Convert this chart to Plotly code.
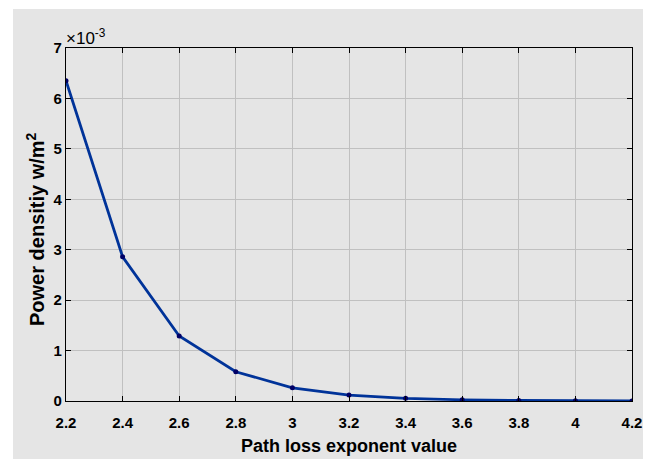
import plotly.graph_objects as go

exponent = [2.2, 2.4, 2.6, 2.8, 3.0, 3.2, 3.4, 3.6, 3.8, 4.0, 4.2]
power_e3 = [6.35, 2.86, 1.29, 0.58, 0.262, 0.118, 0.053, 0.024, 0.011, 0.005, 0.002]
x_ticks = [2.2, 2.4, 2.6, 2.8, 3.0, 3.2, 3.4, 3.6, 3.8, 4.0, 4.2]
x_labels = ["2.2", "2.4", "2.6", "2.8", "3", "3.2", "3.4", "3.6", "3.8", "4", "4.2"]
y_ticks = [0, 1, 2, 3, 4, 5, 6, 7]

FONT = "Liberation Sans, Arial, sans-serif"
BG = "#e5e5e5"

fig = go.Figure()
fig.add_trace(go.Scatter(
    x=exponent, y=power_e3, mode="lines+markers",
    line=dict(color="#003399", width=2.8),
    marker=dict(color="#000066", size=5),
    showlegend=False,
))

L, R, T, B = 66, 17, 48, 58
W, H = 649, 459
pw, ph = W - L - R, H - T - B

fig.add_shape(type="rect", xref="paper", yref="paper", layer="below",
              x0=(13 - L) / pw, x1=(643 - L) / pw,
              y0=-(459 - (H - B)) / ph, y1=((H - B) - 9) / ph,
              fillcolor=BG, line=dict(width=0))

axis_common = dict(
    showline=True, linecolor="black", linewidth=1.3, mirror="ticks",
    ticks="inside", ticklen=5, tickcolor="black", tickwidth=1.3,
    showgrid=True, gridcolor="#c0c0c0", gridwidth=1, zeroline=False,
    automargin=False,
    tickfont=dict(family=FONT, size=15, color="black", weight="bold"),
)

fig.update_xaxes(range=[2.2, 4.2], tickvals=x_ticks, ticktext=x_labels,
                 ticklabelstandoff=8,
                 title=dict(text="Path loss exponent value",
                            font=dict(family=FONT, size=18, color="black", weight="bold"),
                            standoff=9),
                 **axis_common)
fig.update_yaxes(range=[0, 7], tickvals=y_ticks, **axis_common)

fig.add_annotation(xref="paper", yref="paper",
                   x=(35 - L) / pw, y=((H - B) - 229) / ph,
                   xanchor="center", yanchor="middle", textangle=-90,
                   text="Power densitiy w/m<sup>2</sup>", showarrow=False,
                   font=dict(family=FONT, size=20, color="black", weight="bold"))

fig.add_annotation(xref="paper", yref="paper", x=0.0, y=1.0, xanchor="left", yanchor="bottom",
                   text="×10<sup>-3</sup>", showarrow=False,
                   font=dict(family=FONT, size=17, color="black"), xshift=-2, yshift=-2)

fig.update_layout(
    width=W, height=H,
    margin=dict(l=L, r=R, t=T, b=B),
    paper_bgcolor="white", plot_bgcolor=BG,
)

fig.write_html("out.html")
